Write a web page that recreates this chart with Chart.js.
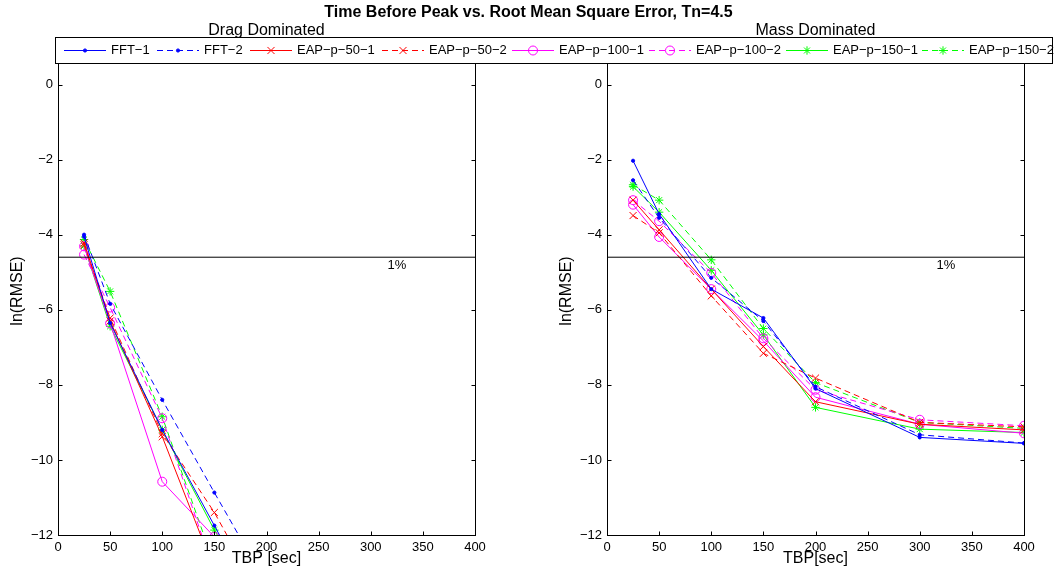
<!DOCTYPE html>
<html><head><meta charset="utf-8">
<script src="https://cdn.jsdelivr.net/npm/chart.js@4.4.1/dist/chart.umd.min.js"></script>
<style>
html,body{margin:0;padding:0;background:#fff;}
body{width:1057px;height:578px;overflow:hidden;position:relative;font-family:"Liberation Sans",Arial,Helvetica,sans-serif;color:#000;}
.abs{position:absolute;white-space:nowrap;}
canvas{position:absolute;top:0;}
#legend{position:absolute;left:55px;top:37px;width:996px;height:25px;border:1px solid #000;background:#fff;}
</style></head><body>
<canvas id="c1" width="530" height="578" style="left:0"></canvas>
<canvas id="c2" width="508" height="578" style="left:549px"></canvas>
<div class="abs" style="left:0;width:1057px;top:3px;text-align:center;font-weight:bold;font-size:16px">Time Before Peak vs. Root Mean Square Error, Tn=4.5</div>
<div class="abs" style="left:58px;width:417px;top:21px;text-align:center;font-size:16px">Drag Dominated</div>
<div class="abs" style="left:607px;width:417px;top:21px;text-align:center;font-size:16px">Mass Dominated</div>
<div id="legend"></div>
<script>
// ---------- data ----------
const tbp = [25, 50, 100, 150, 200, 300, 400];
const seriesLabels = ['FFT\u22121','FFT\u22122','EAP\u2212p\u221250\u22121','EAP\u2212p\u221250\u22122','EAP\u2212p\u2212100\u22121','EAP\u2212p\u2212100\u22122','EAP\u2212p\u2212150\u22121','EAP\u2212p\u2212150\u22122'];
const xTicks = [0, 50, 100, 150, 200, 250, 300, 350, 400];
const yTicks = [-12, -10, -8, -6, -4, -2, 0];
const refLevel = -4.6;          // ln(0.01), the 1% line
const refLabel = '1%';

// Drag dominated
const dragFFT1     = [-4.05, -6.35, -9.20, -11.75, -14.30, -16.5, -18.0];
const dragFFT2     = [-4.00, -5.84, -8.40, -10.87, -13.30, -15.5, -17.0];
const dragEAP50_1  = [-4.22, -6.30, -9.38, -12.94, -15.20, -17.0, -18.5];
const dragEAP50_2  = [-4.27, -6.22, -9.30, -11.40, -13.90, -16.0, -17.5];
const dragEAP100_1 = [-4.31, -6.36, -10.58, -12.05, -13.60, -15.5, -17.0];
const dragEAP100_2 = [-4.53, -5.94, -8.89, -13.00, -15.00, -16.5, -18.0];
const dragEAP150_1 = [-4.30, -6.44, -9.20, -11.87, -14.20, -16.0, -17.5];
const dragEAP150_2 = [-4.13, -5.51, -8.85, -12.80, -14.80, -16.5, -18.0];

// Mass dominated
const massFFT1     = [-2.03, -3.45, -5.45, -6.22, -8.10, -9.40, -9.56];
const massFFT2     = [-2.55, -3.55, -5.15, -6.30, -8.05, -9.33, -9.55];
const massEAP50_1  = [-3.08, -3.87, -5.45, -6.98, -8.45, -9.05, -9.20];
const massEAP50_2  = [-3.49, -3.95, -5.63, -7.16, -7.82, -9.00, -9.12];
const massEAP100_1 = [-3.20, -4.06, -5.45, -6.83, -8.33, -9.05, -9.29];
const massEAP100_2 = [-3.08, -3.64, -5.02, -6.76, -8.13, -8.93, -9.09];
const massEAP150_1 = [-2.72, -3.40, -4.95, -6.67, -8.60, -9.18, -9.27];
const massEAP150_2 = [-2.67, -3.08, -4.67, -6.50, -7.94, -9.00, -9.16];

const dragSeries = [dragFFT1, dragFFT2, dragEAP50_1, dragEAP50_2, dragEAP100_1, dragEAP100_2, dragEAP150_1, dragEAP150_2];
const massSeries = [massFFT1, massFFT2, massEAP50_1, massEAP50_2, massEAP100_1, massEAP100_2, massEAP150_1, massEAP150_2];

// ---------- styles ----------
const FONT = '"Liberation Sans", Arial, Helvetica, sans-serif';
const colors = ['#0000ff','#0000ff','#ff0000','#ff0000','#ff00ff','#ff00ff','#00ff00','#00ff00'];
const dashes = [[], [6,4], [], [6,4], [], [6,4], [], [6,4]];
const markers = [
  {style:'circle', r:1.6, fill:true},
  {style:'circle', r:1.6, fill:true},
  {style:'crossRot', r:5, fill:false},
  {style:'crossRot', r:5, fill:false},
  {style:'circle', r:4.5, fill:false},
  {style:'circle', r:4.5, fill:false},
  {style:'star', r:4.2, fill:false},
  {style:'star', r:4.2, fill:false}
];
const fmt = v => (v < 0 ? '\u2212' + Math.abs(v) : String(v));

const framePlugin = {
  id: 'frame',
  afterDatasetsDraw(chart) {
    const {ctx, chartArea: a, scales: {x, y}} = chart;
    ctx.save();
    ctx.strokeStyle = '#000';
    ctx.lineWidth = 1;
    const L = Math.round(a.left) + 0.5, R = Math.round(a.right) + 0.5;
    const T = Math.round(a.top) + 0.5, B = Math.round(a.bottom) + 0.5;
    ctx.strokeRect(L, T, R - L, B - T);
    const tl = 4;
    ctx.beginPath();
    xTicks.forEach(v => {
      const px = Math.round(x.getPixelForValue(v)) + 0.5;
      ctx.moveTo(px, B); ctx.lineTo(px, B - tl);
      ctx.moveTo(px, T); ctx.lineTo(px, T + tl);
    });
    yTicks.forEach(v => {
      const py = Math.round(y.getPixelForValue(v)) + 0.5;
      ctx.moveTo(L, py); ctx.lineTo(L + tl, py);
      ctx.moveTo(R, py); ctx.lineTo(R - tl, py);
    });
    ctx.stroke();
    // 1% label
    ctx.fillStyle = '#000';
    ctx.font = '13px ' + FONT;
    ctx.textAlign = 'left';
    ctx.textBaseline = 'middle';
    ctx.fillText(refLabel, x.getPixelForValue(316), y.getPixelForValue(refLevel) + 8);
    ctx.restore();
  }
};

function makeChart(id, series, padRight, xTitle) {
  const datasets = series.map((vals, i) => ({
    label: seriesLabels[i],
    data: tbp.map((t, j) => ({x: t, y: vals[j]})),
    borderColor: colors[i],
    borderWidth: 1,
    borderDash: dashes[i],
    pointStyle: markers[i].style,
    pointRadius: markers[i].r,
    pointBorderColor: colors[i],
    pointBackgroundColor: markers[i].fill ? colors[i] : 'rgba(0,0,0,0)',
    pointBorderWidth: 1,
    fill: false,
    tension: 0
  }));
  datasets.unshift({
    label: '1%',
    data: [{x: xTicks[0], y: refLevel}, {x: xTicks[xTicks.length - 1], y: refLevel}],
    borderColor: '#000', borderWidth: 1, pointRadius: 0, fill: false
  });
  return new Chart(document.getElementById(id), {
    type: 'line',
    data: {datasets},
    options: {
      responsive: false, animation: false, events: [],
      layout: {padding: {left: 0, right: padRight, top: 47, bottom: 0}},
      plugins: {legend: {display: false}, tooltip: {enabled: false}, title: {display: false}},
      scales: {
        x: {
          type: 'linear', min: 0, max: 400,
          afterBuildTicks: s => { s.ticks = xTicks.map(v => ({value: v})); },
          afterFit: s => { s.height = 43; },
          grid: {display: false, drawTicks: false}, border: {display: false},
          ticks: {color: '#000', font: {size: 13, family: FONT}, padding: 5, maxRotation: 0, autoSkip: false, callback: v => fmt(v)},
          title: {display: true, text: xTitle, color: '#000', font: {size: 16, family: FONT}, padding: {top: 0, bottom: 10}}
        },
        y: {
          type: 'linear', min: -12, max: 1,
          afterBuildTicks: s => { s.ticks = yTicks.map(v => ({value: v})); },
          afterFit: s => { s.width = 58; },
          grid: {display: false, drawTicks: false}, border: {display: false},
          ticks: {color: '#000', font: {size: 13, family: FONT}, padding: 5, autoSkip: false, callback: v => fmt(v)},
          title: {display: true, text: 'ln(RMSE)', color: '#000', font: {size: 16, family: FONT}, padding: {top: 8, bottom: 0}}
        }
      }
    },
    plugins: [framePlugin]
  });
}

makeChart('c1', dragSeries, 55, 'TBP [sec]');
makeChart('c2', massSeries, 33, 'TBP[sec]');

// ---------- legend ----------
const legend = document.getElementById('legend');
const itemLeft = [8, 101, 194, 326, 456, 593, 730, 866];
seriesLabels.forEach((lab, i) => {
  const c = document.createElement('canvas');
  c.width = 42; c.height = 16;
  c.style.cssText = 'position:absolute;top:4px;left:' + itemLeft[i] + 'px';
  legend.appendChild(c);
  const ctx = c.getContext('2d');
  ctx.strokeStyle = colors[i];
  ctx.lineWidth = 1;
  ctx.setLineDash(dashes[i]);
  ctx.beginPath(); ctx.moveTo(0, 8.5); ctx.lineTo(42, 8.5); ctx.stroke();
  ctx.setLineDash([]);
  ctx.fillStyle = markers[i].fill ? colors[i] : 'rgba(0,0,0,0)';
  Chart.helpers.drawPoint(ctx, {pointStyle: markers[i].style, radius: markers[i].r, rotation: 0, borderWidth: 1}, 21, 8.5);
  const s = document.createElement('div');
  s.className = 'abs';
  s.style.cssText = 'top:4px;font-size:13px;line-height:16px;left:' + (itemLeft[i] + 47) + 'px';
  s.textContent = lab;
  legend.appendChild(s);
});
</script>
</body></html>
